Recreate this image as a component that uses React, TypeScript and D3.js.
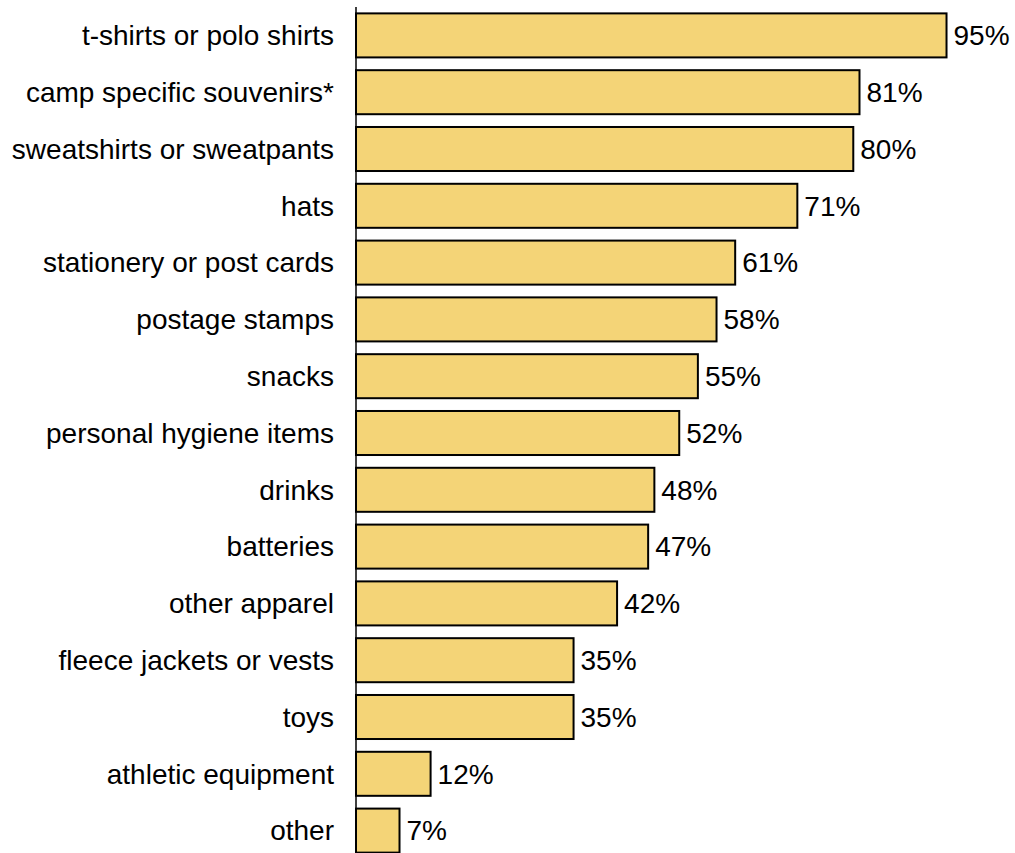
import React from "react";
import * as d3 from "d3";

const categories = [
  "t-shirts or polo shirts",
  "camp specific souvenirs*",
  "sweatshirts or sweatpants",
  "hats",
  "stationery or post cards",
  "postage stamps",
  "snacks",
  "personal hygiene items",
  "drinks",
  "batteries",
  "other apparel",
  "fleece jackets or vests",
  "toys",
  "athletic equipment",
  "other",
];
const values = [95, 81, 80, 71, 61, 58, 55, 52, 48, 47, 42, 35, 35, 12, 7];

export default function App() {
  const W = 1015, H = 853;
  const x = d3.scaleLinear().domain([0, 100]).range([356, 977.6]);
  const y = d3.scaleBand<string>().domain(categories).range([7, 859]).paddingInner(0.225).paddingOuter(0.1125);
  const font = "'Liberation Sans', Arial, sans-serif";
  return (
    <svg width={W} height={H} style={{ position: "absolute", left: 0, top: 0 }}>
      {categories.map((c, i) => {
        const y0 = y(c)!;
        const bh = y.bandwidth();
        return (
          <g key={c}>
            <rect x={x(0)} y={y0} width={x(values[i]) - x(0)} height={bh} fill="#F4D477" stroke="#000" strokeWidth={2} />
            <text x={x(0) - 22} y={y0 + bh / 2} dy="0.35em" textAnchor="end" fontFamily={font} fontSize={28} fill="#000">{c}</text>
            <text x={x(values[i]) + 7} y={y0 + bh / 2} dy="0.35em" textAnchor="start" fontFamily={font} fontSize={28} fill="#000">{values[i]}%</text>
          </g>
        );
      })}
      <line x1={x(0)} x2={x(0)} y1={7} y2={H} stroke="#000" strokeWidth={1.5} />
    </svg>
  );
}
